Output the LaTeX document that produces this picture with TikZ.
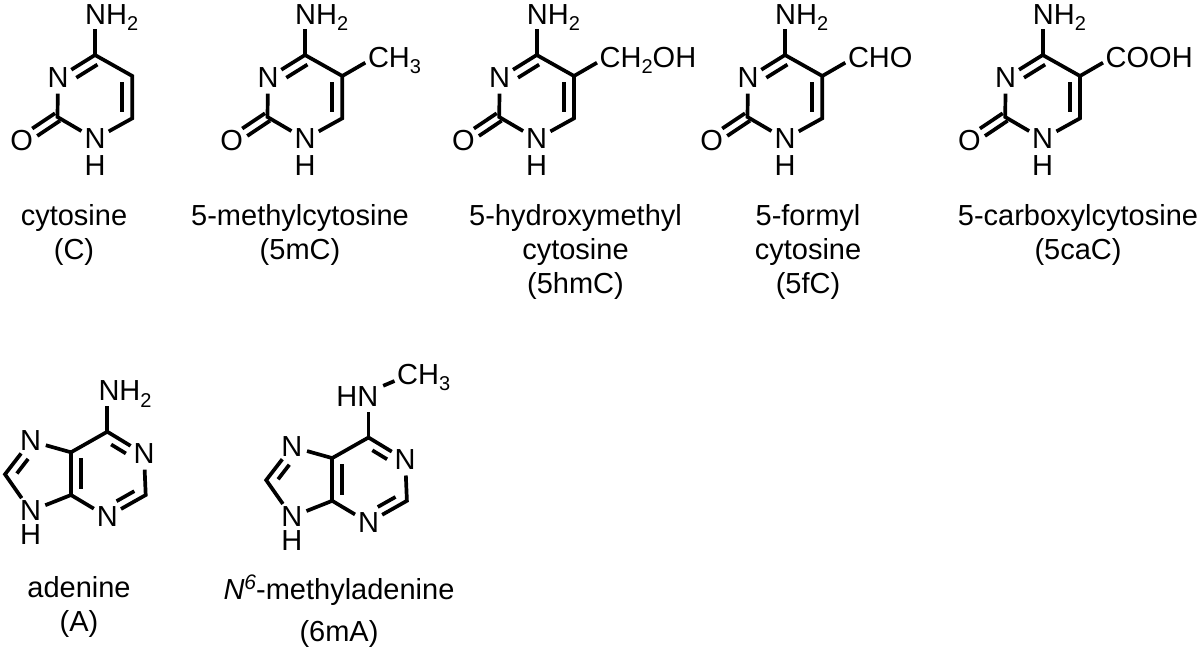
\documentclass[tikz,border=0pt]{standalone}
\usepackage{fontspec}
\setmainfont{Liberation Sans}
\usetikzlibrary{calc}
\newcommand{\atomfont}{\fontsize{29}{30}\selectfont}
\newcommand{\captfont}{\fontsize{29}{33.7}\selectfont}
\newcommand{\sbs}[1]{\raisebox{-6.5pt}{\fontsize{20}{20}\selectfont #1}}
\newcommand{\sps}[1]{\raisebox{10.5pt}{\fontsize{21}{21}\selectfont #1}}
\tikzset{
	bond/.style={line width=3.7pt},
	inbond/.style={bond,shorten <=6pt,shorten >=6pt},
	atom/.style={circle,inner sep=0pt,minimum size=31pt,font=\atomfont},
	group/.style={inner sep=0pt,text height=20pt,text depth=0pt,font=\atomfont},
	capt/.style={inner sep=0pt,anchor=north,align=center,font=\captfont,execute at begin node=\strut},
	cytring/.pic={
		\coordinate (c4) at (95,55);
		\coordinate (c5) at (132.3,76);
		\coordinate (c6) at (132.3,118.3);
		\coordinate (c2) at (57.5,117);
		\node[atom] (n3) at (58,78) {N};
		\node[atom] (n1) at (95,139) {N};
		\node[atom] (h1) at (95,166) {H};
		\node[atom] (o2) at (21.7,141) {O};
		\node[group,anchor=base west] (nh) at ($(c4)+(-10,-31)$) {NH\sbs{2}};
		\draw[bond] (n3) -- (c2) -- (n1);
		\draw[bond] (n1) -- (c6) -- (c5) -- (c4) -- (n3);
		\draw[bond] (c4) -- ($(c4 |- nh.south)+(0,5)$);
		\draw[inbond,transform canvas={shift={(-10,0)}}] (c5) -- (c6);
		\draw[bond,shorten >=3pt,transform canvas={shift={(5,8)}}] (n3) -- (c4);
		\draw[bond,transform canvas={shift={(2.5,3.7)}}] (c2) -- (o2);
		\draw[bond,transform canvas={shift={(-2.5,-3.7)}}] (c2) -- (o2);
	},
	purring/.pic={
		\coordinate (c6) at (107.3,431.7);
		\coordinate (c5) at (71,452.3);
		\coordinate (c4) at (71,495);
		\coordinate (c2) at (145.7,495);
		\coordinate (c8) at (5,474.3);
		\node[atom] (n1) at (144,454) {N};
		\node[atom] (n3) at (107.3,516.7) {N};
		\node[atom] (n7) at (30.7,441) {N};
		\node[atom] (n9) at (30.7,511) {N};
		\node[atom] (h9) at (30.7,535) {H};
		\draw[bond] (n7) -- (c5) -- (c6) -- (n1);
		\draw[bond] (n9) -- (c4) -- (n3);
		\draw[bond] (c4) -- (c5);
		\draw[bond] (n1) -- (c2) -- (n3);
		\draw[bond] (n7) -- (c8) -- (n9);
		\draw[inbond,transform canvas={shift={(10,0)}}] (c5) -- (c4);
		\draw[bond,shorten <=10pt,transform canvas={shift={(-4.7,7.6)}}] (c6) -- (n1);
		\draw[bond,shorten <=8pt,transform canvas={shift={(-4.4,-7.8)}}] (c2) -- (n3);
		\draw[bond,shorten <=8pt,transform canvas={shift={(7,5.5)}}] (c8) -- (n7);
	},
}
\begin{document}
\begin{tikzpicture}[x=1pt,y=-1pt]
	\useasboundingbox (0,0) rectangle (1200,648);
	% cytosines
	\foreach \nm/\dx in {c/0,mc/210,hm/441.7,fc/690,ca/947.7}
		\pic (\nm) at (\dx,0) {cytring};
	\node[group,anchor=base west] (mcr) at ($(mcc5)+(25.5,-9)$) {CH\sbs{3}};
	\node[group,anchor=base west] (hmr) at ($(hmc5)+(25.5,-9)$) {CH\sbs{2}OH};
	\node[group,anchor=base west] (fcr) at ($(fcc5)+(25.5,-9)$) {CHO};
	\node[group,anchor=base west] (car) at ($(cac5)+(25.5,-9)$) {COOH};
	\draw[bond] (mcc5) -- ($(mcr.west)+(-2.5,5.7)$);
	\draw[bond] (hmc5) -- ($(hmr.west)+(-2.5,5.7)$);
	\draw[bond] (fcc5) -- ($(fcr.west)+(-2.5,5.7)$);
	\draw[bond] (cac5) -- ($(car.west)+(-2.5,5.7)$);
	\node[capt] (ccap) at (74,204.7) {cytosine\\(C)};
	\node[capt] (mccap) at (300,204.7) {5-methylcytosine\\(5mC)};
	\node[capt] (hmcap) at (575.5,204.7) {5-hydroxymethyl\\cytosine\\(5hmC)};
	\node[capt] (fccap) at (808,204.7) {5-formyl\\cytosine\\(5fC)};
	\node[capt] (cacap) at (1078,204.7) {5-carboxylcytosine\\(5caC)};
	% adenines
	\pic (a) at (0,0) {purring};
	\pic (m) at (261.2,5.8) {purring};
	\node[group,anchor=base west] (anh) at ($(ac6)+(-9,-31)$) {NH\sbs{2}};
	\draw[bond] (ac6) -- ($(ac6 |- anh.south)+(0,5)$);
	\node[group,anchor=base east] (mhn) at ($(mc6)+(10,-31.5)$) {HN};
	\node[group,anchor=base west] (mch) at ($(mc6)+(28.5,-53.5)$) {CH\sbs{3}};
	\draw[bond] (mc6) -- ($(mc6 |- mhn.south)+(0,6)$);
	\draw[bond] ($(mhn.north east)+(4.7,0)$) -- ($(mch.west)+(-2.5,7)$);
	\node[capt] (acap) at (79,576.4) {adenine\\(A)};
	\node[capt] (mcap) at (339,574.4) {\textit{N}\sps{\textit{6}}-methyladenine\\[8pt](6mA)};
\end{tikzpicture}
\end{document}
